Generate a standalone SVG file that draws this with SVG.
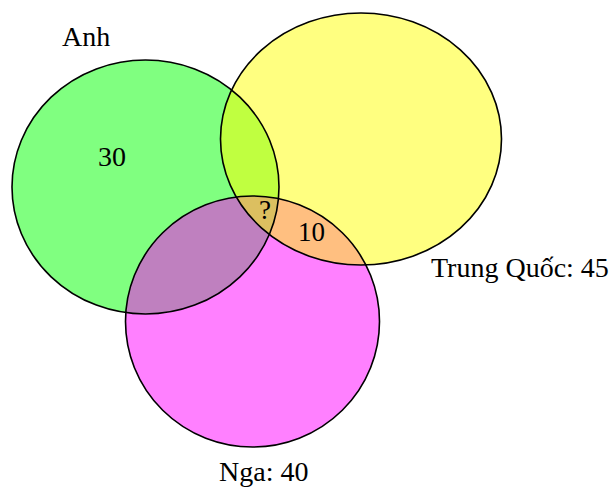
<svg xmlns="http://www.w3.org/2000/svg" width="616" height="487" viewBox="0 0 616 487">
  <style>
    .lbl { font-family: "Liberation Serif", "Times New Roman", serif; font-size: 28px; fill: #000; }
    .num { font-family: "Liberation Serif", "Times New Roman", serif; font-size: 27px; fill: #000; }
    .edge { fill: none; stroke: #000; stroke-width: 1.6; }
  </style>
  <defs>
    <ellipse id="eAnh" cx="145.5" cy="187" rx="133.5" ry="127"/>
    <ellipse id="eTQ" cx="361" cy="139" rx="140.5" ry="126"/>
    <ellipse id="eNga" cx="252.5" cy="321.5" rx="127" ry="125.5"/>
    <clipPath id="cAnh"><use href="#eAnh"/></clipPath>
    <clipPath id="cTQ"><use href="#eTQ"/></clipPath>
    <clipPath id="cNga"><use href="#eNga"/></clipPath>
  </defs>
  <rect width="616" height="487" fill="#fff"/>

  <!-- base sets -->
  <g id="set-anh">
    <use href="#eAnh" fill="#80ff80"/>
  </g>
  <g id="set-trung-quoc">
    <use href="#eTQ" fill="#ffff80"/>
  </g>
  <g id="set-nga">
    <use href="#eNga" fill="#ff80ff"/>
  </g>

  <!-- pairwise and triple overlaps -->
  <g id="overlaps">
    <g clip-path="url(#cAnh)"><use href="#eTQ" fill="#c0ff40"/></g>
    <g clip-path="url(#cAnh)"><use href="#eNga" fill="#bf80bf"/></g>
    <g clip-path="url(#cTQ)"><use href="#eNga" fill="#ffbf80"/></g>
    <g clip-path="url(#cAnh)"><g clip-path="url(#cTQ)"><use href="#eNga" fill="#dcbf60"/></g></g>
  </g>

  <!-- outlines -->
  <g id="outlines">
    <use href="#eAnh" class="edge"/>
    <use href="#eTQ" class="edge"/>
    <use href="#eNga" class="edge"/>
  </g>

  <!-- labels -->
  <g id="labels">
    <text class="lbl" x="62" y="46">Anh</text>
    <text class="lbl" x="98" y="166">30</text>
    <text class="num" x="259" y="219">?</text>
    <text class="num" x="298" y="241">10</text>
    <text class="lbl" x="431" y="277">Trung Quốc: 45</text>
    <text class="lbl" x="219" y="481">Nga: 40</text>
  </g>
</svg>
